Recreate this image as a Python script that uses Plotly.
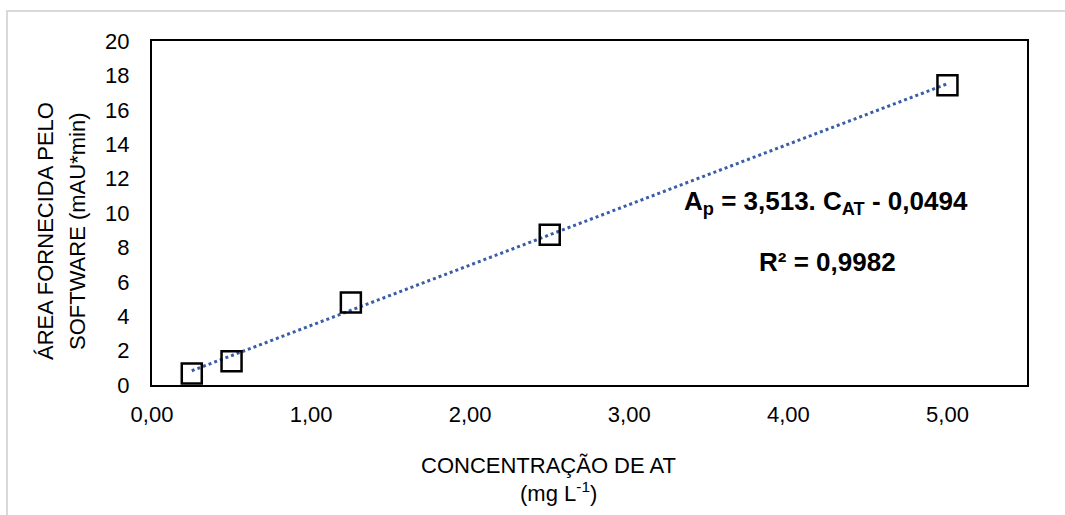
import plotly.graph_objects as go

# Data
conc = [0.25, 0.5, 1.25, 2.5, 5.0]
area = [0.67, 1.38, 4.79, 8.73, 17.43]
slope = 3.513
intercept = -0.0494
x_ticks = [0, 1, 2, 3, 4, 5]
y_ticks = list(range(0, 21, 2))

trend_x = [min(conc), max(conc)]
trend_y = [slope * v + intercept for v in trend_x]

FONT = "Arial, Liberation Sans, sans-serif"

L, R, T, B = 152, 1027, 41, 385
W, H = R - L, B - T


def px(x):
    return (x - L) / W


def py(y):
    return (B - y) / H


fig = go.Figure()
fig.add_trace(go.Scatter(
    x=trend_x, y=trend_y, mode="lines",
    line=dict(color="#3A5DA8", width=3, dash="dot"),
    showlegend=False, hoverinfo="skip"))
fig.add_trace(go.Scatter(
    x=conc, y=area, mode="markers",
    marker=dict(symbol="square-open", size=20, color="black",
                line=dict(color="black", width=2.5)),
    showlegend=False, cliponaxis=False))

fig.update_layout(
    width=1065, height=515,
    margin=dict(l=L, r=1065 - R, t=T, b=515 - B),
    paper_bgcolor="white", plot_bgcolor="white",
    separators=",.",
    font=dict(family=FONT, size=22, color="black"),
    xaxis=dict(range=[0, 5.5], tickvals=x_ticks, tickformat=".2f",
               showgrid=False, zeroline=False, showline=True,
               linecolor="black", linewidth=2, mirror=True,
               ticks="", ticklabelstandoff=9, tickfont=dict(size=22)),
    yaxis=dict(range=[0, 20], tickvals=y_ticks,
               showgrid=False, zeroline=False, showline=True,
               linecolor="black", linewidth=2, mirror=True,
               ticks="", ticklabelstandoff=16, tickfont=dict(size=22)),
    shapes=[dict(type="rect", xref="paper", yref="paper",
                 x0=px(7), x1=px(1090), y0=py(560), y1=py(11),
                 line=dict(color="#D9D9D9", width=2), layer="below")],
    annotations=[
        dict(text="ÁREA FORNECIDA PELO",
             xref="paper", yref="paper", x=px(45), y=py(231),
             xanchor="center", yanchor="middle", textangle=-90,
             showarrow=False, font=dict(size=22)),
        dict(text="SOFTWARE (mAU*min)",
             xref="paper", yref="paper", x=px(77), y=py(231),
             xanchor="center", yanchor="middle", textangle=-90,
             showarrow=False, font=dict(size=22)),
        dict(text="CONCENTRAÇÃO DE AT", xref="paper", yref="paper",
             x=px(548), y=py(465),
             xanchor="center", yanchor="middle", showarrow=False,
             font=dict(size=22)),
        dict(text="(mg L<sup>-1</sup>)", xref="paper", yref="paper",
             x=px(558), y=py(492),
             xanchor="center", yanchor="middle", showarrow=False,
             font=dict(size=22)),
        dict(text="<b>A<sub>p</sub> = 3,513. C<sub>AT</sub> - 0,0494</b>",
             xref="paper", yref="paper", x=px(826), y=py(203),
             xanchor="center", yanchor="middle", showarrow=False,
             font=dict(size=26)),
        dict(text="<b>R² = 0,9982</b>",
             xref="paper", yref="paper", x=px(827), y=py(262),
             xanchor="center", yanchor="middle", showarrow=False,
             font=dict(size=26)),
    ],
)

fig.write_html("out.html")
